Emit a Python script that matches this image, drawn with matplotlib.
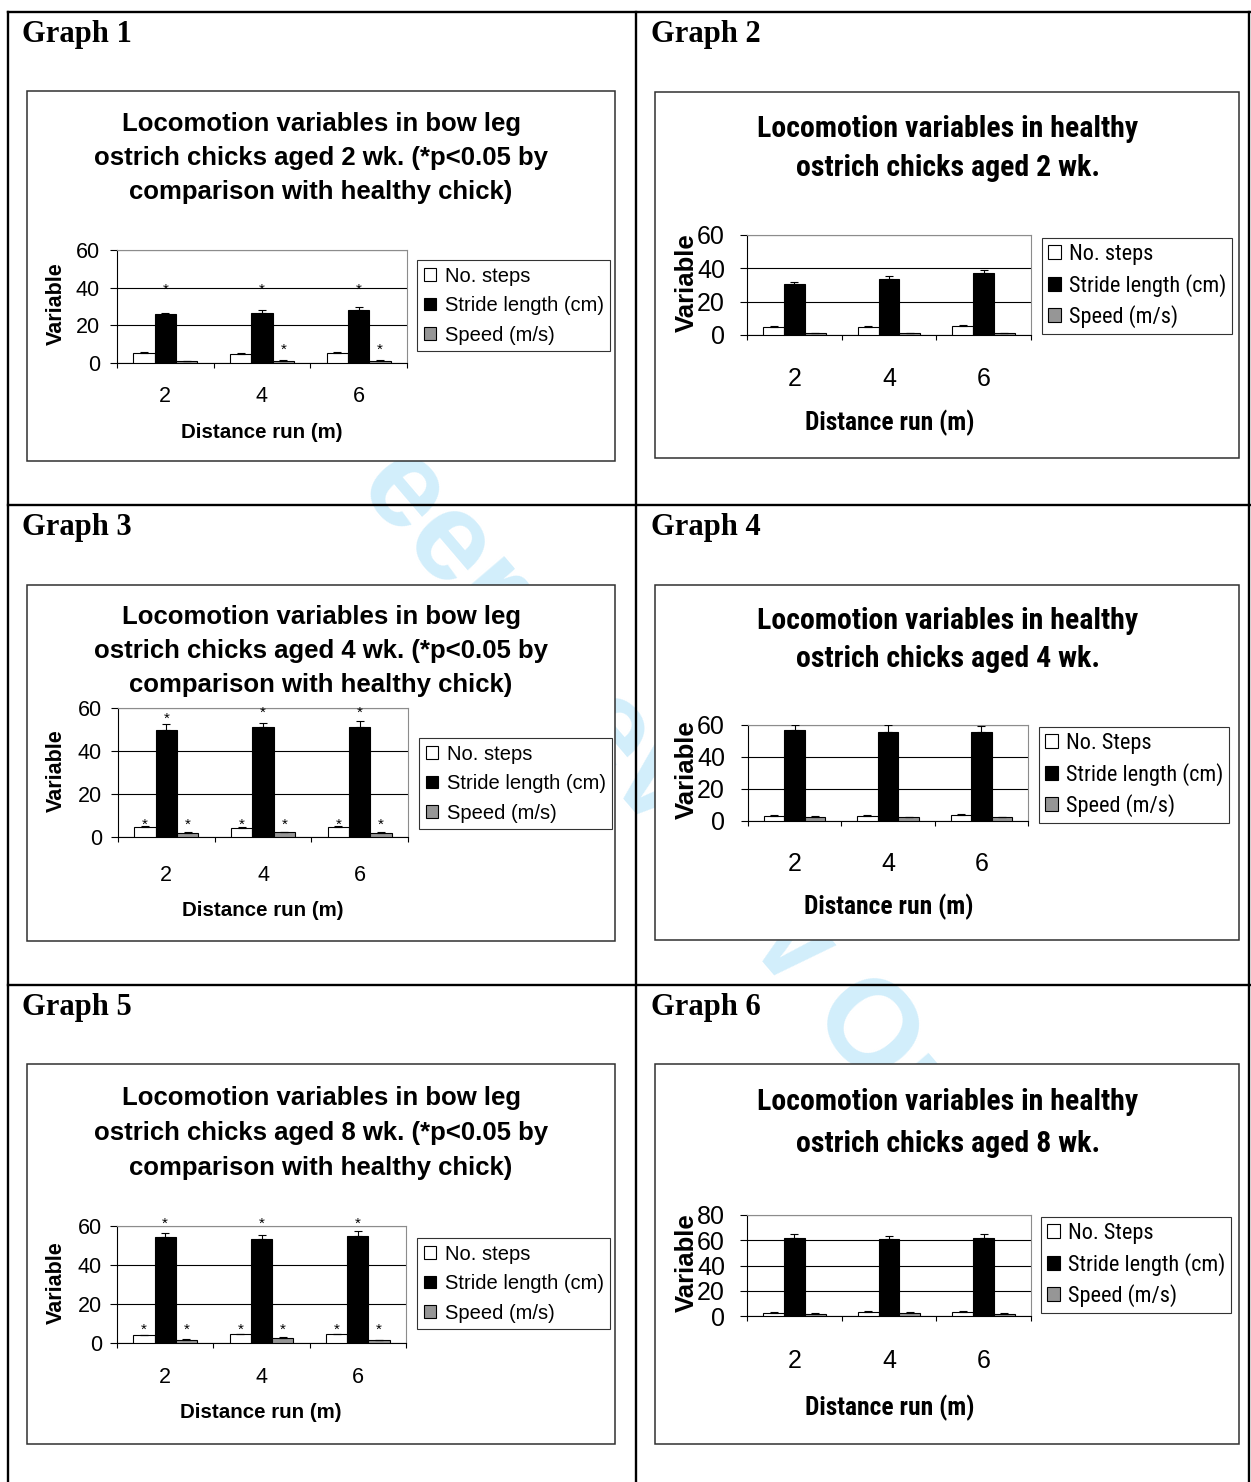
import matplotlib
matplotlib.use('Agg')
import numpy as np
import matplotlib.pyplot as plt
from matplotlib.patches import Rectangle
from matplotlib.lines import Line2D
from matplotlib import font_manager
from matplotlib.font_manager import FontProperties

W, H = 1251, 1482

# ---- data ----
distances = ['2', '4', '6']
names_a = ['No. steps', 'Stride length (cm)', 'Speed (m/s)']
names_b = ['No. Steps', 'Stride length (cm)', 'Speed (m/s)']
bar_colors = ['white', 'black', '#969696']

# graph 1 : bow leg, 2 wk
g1_steps = [5.5, 4.9, 5.5]
g1_steps_err = [0.4, 0.4, 0.4]
g1_stride = [25.8, 26.4, 28.1]
g1_stride_err = [0.6, 1.6, 1.4]
g1_speed = [1.0, 1.0, 1.0]
g1_speed_err = [0.3, 0.4, 0.4]
g1_stars = [(1, 0, 42), (1, 1, 42), (1, 2, 42), (2, 1, 10), (2, 2, 10)]

# graph 2 : healthy, 2 wk
g2_steps = [5.0, 5.0, 5.2]
g2_steps_err = [0.2, 0.2, 0.9]
g2_stride = [30.6, 33.6, 37.4]
g2_stride_err = [1.5, 1.8, 1.8]
g2_speed = [1.2, 1.2, 1.2]
g2_speed_err = [0.2, 0.2, 0.2]

# graph 3 : bow leg, 4 wk
g3_steps = [4.7, 4.2, 4.7]
g3_steps_err = [0.2, 0.5, 0.2]
g3_stride = [49.6, 51.0, 51.0]
g3_stride_err = [3.0, 2.2, 3.0]
g3_speed = [1.9, 2.2, 1.9]
g3_speed_err = [0.3, 0.2, 0.2]
g3_stars = [(0, 0, 8.2), (0, 1, 8.2), (0, 2, 8.2),
            (1, 0, 57.7), (1, 1, 60.5), (1, 2, 60.5),
            (2, 0, 8.2), (2, 1, 8.2), (2, 2, 8.2)]

# graph 4 : healthy, 4 wk
g4_steps = [2.9, 2.9, 3.9]
g4_steps_err = [0.8, 1.0, 0.3]
g4_stride = [56.9, 55.6, 55.6]
g4_stride_err = [3.1, 4.4, 4.0]
g4_speed = [2.5, 2.3, 2.3]
g4_speed_err = [0.6, 0.2, 0.2]

# graph 5 : bow leg, 8 wk
g5_steps = [3.9, 4.6, 4.6]
g5_steps_err = [0.2, 0.2, 0.2]
g5_stride = [54.5, 53.3, 54.9]
g5_stride_err = [2.1, 1.9, 2.5]
g5_speed = [1.7, 2.7, 1.5]
g5_speed_err = [0.6, 0.2, 0.1]
g5_stars = [(0, 0, 9.4), (0, 1, 9.4), (0, 2, 9.4),
            (1, 0, 63.9), (1, 1, 63.9), (1, 2, 63.9),
            (2, 0, 9.4), (2, 1, 9.4), (2, 2, 9.4)]

# graph 6 : healthy, 8 wk
g6_steps = [2.6, 2.9, 2.9]
g6_steps_err = [0.6, 1.1, 1.1]
g6_stride = [61.7, 60.7, 61.7]
g6_stride_err = [3.2, 2.3, 3.2]
g6_speed = [1.8, 2.6, 1.8]
g6_speed_err = [0.3, 0.3, 0.3]

bow_title = ['Locomotion variables in bow leg',
             'ostrich chicks aged {} wk. (*p<0.05 by',
             'comparison with healthy chick)']
healthy_title = ['Locomotion variables in healthy',
                 'ostrich chicks aged {} wk.']


def pick_font(cands, weight):
    # first family that has a static file of this weight
    for name in cands:
        for f in font_manager.fontManager.ttflist:
            if f.name == name and f.weight == weight and '[' not in f.fname \
                    and 'Italic' not in f.fname and 'Oblique' not in f.fname:
                return name
    return None


narrow_cands = ['Liberation Sans Narrow', 'Arial Narrow', 'Roboto Condensed', 'PT Sans Narrow',
                'Open Sans Condensed', 'IBM Plex Sans Condensed', 'Fira Sans Condensed']
NARROW_B = pick_font(narrow_cands, 700) or 'Liberation Sans'
NARROW_R = pick_font(narrow_cands, 400) or 'Liberation Sans'
SANS = 'Liberation Sans'
SERIF = 'Liberation Serif'

graphs = [
    dict(num=1, age=2, kind='bow', vals=[g1_steps, g1_stride, g1_speed],
         errs=[g1_steps_err, g1_stride_err, g1_speed_err], stars=g1_stars, ymax=60, names=names_a),
    dict(num=2, age=2, kind='healthy', vals=[g2_steps, g2_stride, g2_speed],
         errs=[g2_steps_err, g2_stride_err, g2_speed_err], stars=[], ymax=60, names=names_a),
    dict(num=3, age=4, kind='bow', vals=[g3_steps, g3_stride, g3_speed],
         errs=[g3_steps_err, g3_stride_err, g3_speed_err], stars=g3_stars, ymax=60, names=names_a),
    dict(num=4, age=4, kind='healthy', vals=[g4_steps, g4_stride, g4_speed],
         errs=[g4_steps_err, g4_stride_err, g4_speed_err], stars=[], ymax=60, names=names_b),
    dict(num=5, age=8, kind='bow', vals=[g5_steps, g5_stride, g5_speed],
         errs=[g5_steps_err, g5_stride_err, g5_speed_err], stars=g5_stars, ymax=60, names=names_a),
    dict(num=6, age=8, kind='healthy', vals=[g6_steps, g6_stride, g6_speed],
         errs=[g6_steps_err, g6_stride_err, g6_speed_err], stars=[], ymax=80, names=names_b),
]

# pixel layout of each cell
layout = [
    dict(header=(22, 42), box=(27, 91, 615, 461), axes=(117, 407, 250, 363), title_x=321,
         title_y=[124, 158, 192], xlabel=(262, 432), ylabel=(56, 304), legend=(417, 260), xpad=16.8, ypad=7.2),
    dict(header=(651, 42), box=(655, 92, 1239, 458), axes=(747, 1031, 235, 335), title_x=948,
         title_y=[129, 168], xlabel=(890, 423), ylabel=(687, 283), legend=(1042, 238), xpad=22.9, ypad=10.8),
    dict(header=(22, 535), box=(27, 585, 615, 941), axes=(118, 408, 708, 837), title_x=321,
         title_y=[617, 651, 685], xlabel=(263, 911), ylabel=(56, 771), legend=(419, 738), xpad=20.4, ypad=6.5),
    dict(header=(651, 535), box=(655, 585, 1239, 940), axes=(748, 1028, 725, 821), title_x=948,
         title_y=[621, 659], xlabel=(889, 907), ylabel=(687, 770), legend=(1039, 727), xpad=22.1, ypad=11.5),
    dict(header=(22, 1015), box=(27, 1064, 615, 1444), axes=(117, 406, 1226, 1343), title_x=321,
         title_y=[1098, 1133, 1168], xlabel=(261, 1413), ylabel=(56, 1283), legend=(417, 1238), xpad=17.5, ypad=5.8),
    dict(header=(651, 1015), box=(655, 1064, 1239, 1444), axes=(747, 1031, 1215, 1316), title_x=948,
         title_y=[1102, 1144], xlabel=(890, 1408), ylabel=(687, 1263), legend=(1041, 1217), xpad=23.6, ypad=10.8),
]


def fx(x):
    return x / W


def fy(y):
    return 1 - y / H


fig = plt.figure(figsize=(W / 100, H / 100), dpi=100)
fig.patch.set_facecolor('white')

# watermark behind everything
fig.text(fx(593), fy(713), 'For Peer Review Only', rotation=-49.5, rotation_mode='anchor',
         ha='center', va='center', fontsize=91, fontweight='bold', color='#d2eefb',
         family=SANS, zorder=0.2)

# table grid lines
for xs_, ys_ in [((8, 8), (12, H)), ((636, 636), (12, H)), ((1249, 1249), (12, H)),
                 ((8, W), (12, 12)), ((8, W), (505, 505)), ((8, W), (985, 985))]:
    fig.add_artist(Line2D([fx(xs_[0]), fx(xs_[1])], [fy(ys_[0]), fy(ys_[1])], color='black',
                          lw=1.7, zorder=1))

width = 0.22
xs = np.arange(len(distances))

for g, lay in zip(graphs, layout):
    healthy = g['kind'] == 'healthy'

    # header
    fig.text(fx(lay['header'][0]), fy(lay['header'][1]), 'Graph {}'.format(g['num']),
             ha='left', va='baseline', fontsize=22, fontweight='bold', family=SERIF, zorder=6)

    # chart frame
    bx0, by0, bx1, by1 = lay['box']
    fig.add_artist(Rectangle((fx(bx0), fy(by1)), fx(bx1) - fx(bx0), (by1 - by0) / H,
                             facecolor='white', edgecolor='#303030', lw=1.1, zorder=2))

    # title
    lines = healthy_title if healthy else bow_title
    for line, ty in zip(lines, lay['title_y']):
        if healthy:
            fig.text(fx(lay['title_x']), fy(ty), line.format(g['age']), ha='center', va='center',
                     fontsize=21.5, fontweight='bold', family=NARROW_B, zorder=6)
        else:
            fig.text(fx(lay['title_x']), fy(ty), line.format(g['age']), ha='center', va='center',
                     fontsize=18.5, fontweight='bold', family=SANS, zorder=6)

    ax0, ax1, aytop, aybot = lay['axes']
    ax = fig.add_axes([fx(ax0), fy(aybot), (ax1 - ax0) / W, (aybot - aytop) / H])
    ax.set_zorder(5)
    ax.patch.set_alpha(0)

    handles = []
    for i in range(3):
        pos = xs + (i - 1) * width
        b = ax.bar(pos, g['vals'][i], width, color=bar_colors[i], edgecolor='black',
                   linewidth=0.8, zorder=3, label=g['names'][i])
        ax.errorbar(pos, g['vals'][i], yerr=[np.zeros(3), g['errs'][i]], fmt='none',
                    ecolor='black', elinewidth=0.8, capsize=3, capthick=0.8, zorder=4)
        handles.append(b)

    for (si, gi, sy) in g['stars']:
        ax.annotate('*', (xs[gi] + (si - 1) * width, sy), xytext=(0, -4), textcoords='offset points',
                    ha='center', va='center', fontsize=11, family=SANS, annotation_clip=False)

    ymax = g['ymax']
    ax.set_xlim(-0.5, 2.5)
    ax.set_ylim(0, ymax)
    ax.set_yticks(np.arange(0, ymax + 1, 20))
    ax.set_xticks(xs)
    ax.set_xticklabels(distances)
    ax.set_xticks([-0.5, 0.5, 1.5, 2.5], minor=True)
    tick_size = 18 if healthy else 15.5
    ax.tick_params(axis='x', which='major', length=0, pad=lay['xpad'], labelsize=tick_size)
    ax.tick_params(axis='x', which='minor', length=3.6, width=0.8, direction='out')
    ax.tick_params(axis='y', length=5, width=0.8, direction='out', pad=lay['ypad'], labelsize=tick_size)
    for lab in ax.get_xticklabels() + ax.get_yticklabels():
        lab.set_family(SANS)
    ax.yaxis.grid(True, color='black', lw=0.8)
    ax.set_axisbelow(True)
    ax.spines['left'].set_color('black')
    ax.spines['bottom'].set_color('black')
    ax.spines['top'].set_color('#8c8c8c')
    ax.spines['right'].set_color('#8c8c8c')
    for sp in ax.spines.values():
        sp.set_linewidth(0.8)

    # axis titles and legend
    if healthy:
        fig.text(fx(lay['xlabel'][0]), fy(lay['xlabel'][1]), 'Distance run (m)', ha='center', va='center',
                 fontsize=18.4, fontweight='bold', family=NARROW_B, zorder=6)
        fig.text(fx(lay['ylabel'][0]), fy(lay['ylabel'][1]), 'Variable', ha='center', va='center',
                 rotation=90, fontsize=18.5, fontweight='bold', family=SANS, zorder=6)
        leg_prop = FontProperties(family=NARROW_R, size=16)
        leg_kw = dict(handlelength=0.58, handleheight=0.58, handletextpad=0.35,
                      labelspacing=0.38, borderpad=0.28)
    else:
        fig.text(fx(lay['xlabel'][0]), fy(lay['xlabel'][1]), 'Distance run (m)', ha='center', va='center',
                 fontsize=14.8, fontweight='bold', family=SANS, zorder=6)
        fig.text(fx(lay['ylabel'][0]), fy(lay['ylabel'][1]), 'Variable', ha='center', va='center',
                 rotation=90, fontsize=15.5, fontweight='bold', family=SANS, zorder=6)
        leg_prop = FontProperties(family=SANS, size=14.5)
        leg_kw = dict(handlelength=0.6, handleheight=0.6, handletextpad=0.45,
                      labelspacing=0.52, borderpad=0.33)

    leg = ax.legend(handles=handles, loc='upper left',
                    bbox_to_anchor=(fx(lay['legend'][0]), fy(lay['legend'][1])),
                    bbox_transform=fig.transFigure, borderaxespad=0, frameon=True, fancybox=False,
                    prop=leg_prop, **leg_kw)
    leg.get_frame().set_edgecolor('black')
    leg.get_frame().set_linewidth(0.8)
    leg.set_zorder(7)

fig.savefig('out.png', dpi=100)
